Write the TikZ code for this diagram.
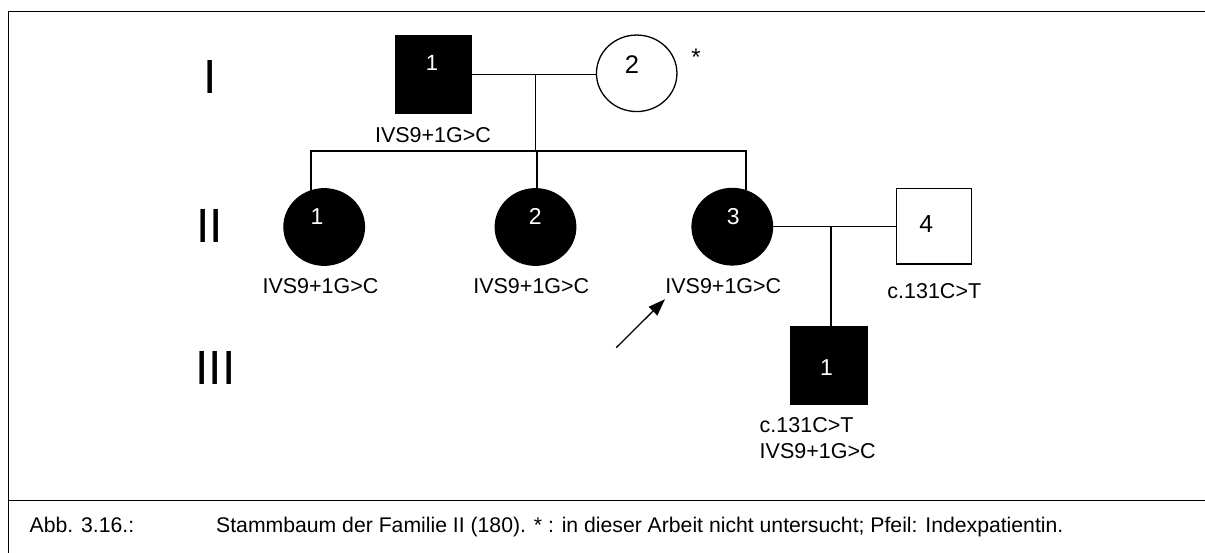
\documentclass[tikz,border=0pt]{standalone}
\usepackage{fontspec}
\setmainfont{Liberation Sans}
\usetikzlibrary{shapes.geometric,arrows.meta}
\begin{document}
\begin{tikzpicture}[x=1pt,y=-1pt,
  ln/.style={line width=1.3pt},
  male/.style={draw,line width=1.3pt,rectangle,minimum width=76pt,minimum height=77pt,inner sep=0pt},
  female/.style={draw,line width=1.3pt,ellipse,minimum width=80.5pt,minimum height=76.5pt,inner sep=0pt},
  aff/.style={fill=black},
  unaff/.style={fill=white},
  num/.style={anchor=base,inner sep=0pt,font=\fontsize{23}{23}\selectfont},
  wnum/.style={num,text=white},
  lbl/.style={anchor=base,inner sep=0pt,font=\fontsize{21.5}{24}\selectfont},
  caplbl/.style={anchor=base west,inner sep=0pt,font=\fontsize{21.2}{24}\selectfont},
  gen/.style={anchor=base,inner sep=0pt,font=\fontsize{48}{48}\selectfont}]
\useasboundingbox (0,0) rectangle (1205,553);
% frame
\draw[line width=1.5pt] (1205,11.7) -- (8.4,11.7) -- (8.4,553);
\draw[line width=1.5pt] (8.4,500.7) -- (1205,500.7);
% generation labels
\node[gen] (gI) at (210.5,93.3) {I};
\node[gen] (gII) at (209.5,242.5) {II};
\node[gen] (gIII) at (215.5,384) {III};
% generation I
\node[male,aff] (i1) at (433.5,74.5) {};
\node[female,unaff] (i2) at (636.7,73.3) {};
\node[wnum,font=\fontsize{22}{22}\selectfont] at (432,70.7) {1};
\node[num,font=\fontsize{25.5}{25.5}\selectfont] at (632,73.3) {2};
\node[inner sep=0pt,font=\fontsize{24}{24}\selectfont] (ast) at (696,57) {*};
\node[lbl] (li1) at (433,142.7) {IVS9+1G>C};
\coordinate (m1) at (535.7,74.3);
\coordinate (s1) at (535.7,151);
\draw[ln] (i1.east |- m1) -- (i2.west |- m1);
\draw[ln] (m1) -- (s1);
% generation II
\node[female,aff] (ii1) at (324.2,227) {};
\node[female,aff] (ii2) at (535.5,227) {};
\node[female,aff] (ii3) at (732.3,226.7) {};
\node[male,unaff,minimum width=75pt,minimum height=75.7pt] (ii4) at (934,226.2) {};
\node[wnum] at (317,225) {1};
\node[wnum] at (535.3,225) {2};
\node[wnum] at (733.3,225) {3};
\node[num,font=\fontsize{24.7}{24.7}\selectfont] at (926.3,232.7) {4};
\node[lbl] (lii1) at (320.5,294) {IVS9+1G>C};
\node[lbl] (lii2) at (531.3,294) {IVS9+1G>C};
\node[lbl] (lii3) at (723.3,294) {IVS9+1G>C};
\node[lbl] (lii4) at (934.3,298.3) {c.131C>T};
\coordinate (c1) at (311,151);
\coordinate (c3) at (746,151);
\coordinate (c1b) at (311,191);
\coordinate (c2b) at (537,189);
\coordinate (c3b) at (746,190.5);
\draw[ln] (c1b) -- (c1) -- (c3) -- (c3b);
\draw[ln] (s1 -| c2b) -- (c2b);
\coordinate (m2) at (831,226.7);
\draw[ln] (ii3.east |- m2) -- (ii4.west |- m2);
% generation III
\node[male,aff,minimum width=76.4pt,minimum height=77.6pt] (iii1) at (828.8,365.5) {};
\node[wnum] at (826.5,375) {1};
\draw[ln] (m2) -- (m2 |- iii1.north);
\node[lbl,anchor=base west] (liii1a) at (759.5,432.7) {c.131C>T};
\node[lbl,anchor=base west] (liii1b) at (759.5,458.3) {IVS9+1G>C};
% index arrow
\coordinate (arS) at (616.2,347.7);
\coordinate (arE) at (665,299.2);
\draw[line width=1.3pt,-{Triangle[length=17pt,width=12pt]}] (arS) -- (arE);
% caption
\node[caplbl] (cap1) at (29.5,532.5) {Abb. 3.16.:};
\node[caplbl] (cap2) at (216,532.5) {Stammbaum der Familie II (180). * : in dieser Arbeit nicht untersucht; Pfeil: Indexpatientin.};
\end{tikzpicture}
\end{document}
